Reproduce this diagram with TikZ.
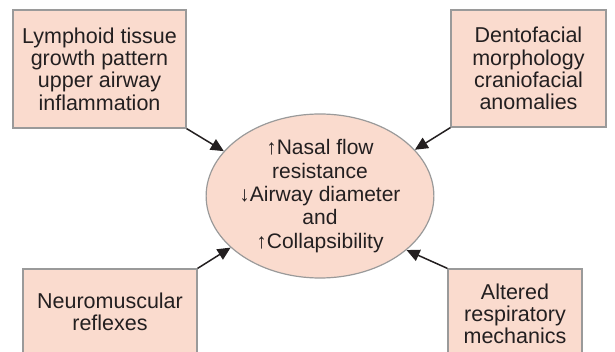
\documentclass[tikz,border=0pt]{standalone}
\usepackage{fontspec}
\setmainfont{Liberation Sans}
\usetikzlibrary{shapes,arrows.meta,positioning}

\definecolor{peach}{HTML}{FADBCE}
\definecolor{boxline}{HTML}{9A9A9A}
\definecolor{ink}{HTML}{231F20}

\begin{document}
\begin{tikzpicture}[x=1pt, y=-1pt,
    factor/.style={draw=boxline, line width=1.2pt, rectangle, fill=peach, text=ink, align=center,
                   font=\fontsize{21.5}{22.3}\selectfont, inner sep=0pt},
    core/.style={draw=boxline, line width=1.2pt, ellipse, fill=peach, text=ink, align=center,
                 font=\fontsize{21}{23.4}\selectfont, minimum width=201pt, minimum height=164pt, inner sep=0pt},
    edge/.style={-{Triangle[length=13pt, width=12pt]}, line width=1.5pt, draw=ink},
]

\useasboundingbox (0,0) rectangle (615,352);
\clip (0,0) rectangle (615,352);

% Factors
\node[factor, minimum width=173pt, minimum height=118pt] (lymph) at (99.5, 69)
  {Lymphoid tissue\\growth pattern\\upper airway\\inflammation};
\node[factor, minimum width=155pt, minimum height=117pt] (dento) at (528.5, 68.5)
  {Dentofacial\\morphology\\craniofacial\\anomalies};
\node[factor, minimum width=174pt, minimum height=86pt] (neuro) at (110, 312)
  {Neuromuscular\\reflexes};
\node[factor, minimum width=134pt, minimum height=90pt] (resp) at (515, 314)
  {Altered\\respiratory\\mechanics};

% Airway
\node[core] (airway) at (320, 196)
  {↑Nasal flow\\resistance\\↓Airway diameter\\and\\↑Collapsibility};

% Arrows
\draw[edge] (lymph.south east) -- (airway.155);
\draw[edge] (dento.south west) -- (airway.26);
\draw[edge] (neuro.north east) -- (airway.210);
\draw[edge] (resp.north west) -- (airway.328);

\end{tikzpicture}
\end{document}
